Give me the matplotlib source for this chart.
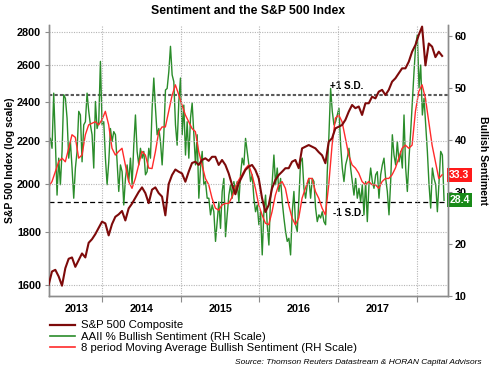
import matplotlib
matplotlib.use("Agg")
import matplotlib.pyplot as plt
import matplotlib.dates as mdates
from matplotlib.ticker import FixedLocator, NullLocator, FuncFormatter
from matplotlib.lines import Line2D
import pandas as pd
import numpy as np

plt.rcParams['font.family'] = ['Liberation Sans', 'DejaVu Sans']

# ---------------- data ----------------
spx_start, spx_end = "2013-04-26", "2018-04-29"
spx = [1600, 1648, 1654, 1630, 1597, 1660, 1695, 1700, 1665, 1690, 1715, 1700, 1756, 1770, 1790,
       1815, 1840, 1833, 1785, 1830, 1860, 1870, 1884, 1845, 1895, 1915, 1940, 1965, 1985, 1960, 1917,
       1975, 1985, 1960, 1945, 1866, 2000, 2040, 2065, 2055, 2047, 2010, 2055, 2095, 2101, 2086,
       2109, 2117, 2105, 2124, 2124, 2086, 2109, 2086, 2047, 1996, 1955, 2003, 2033, 2063, 2078,
       2086, 2063, 2025, 1938, 1880, 1909, 1981, 2018, 2040, 2055, 2071, 2071, 2101, 2109, 2071,
       2164, 2172, 2180, 2172, 2164, 2146, 2131, 2094, 2196, 2213, 2262, 2270, 2279, 2305, 2347,
       2382, 2365, 2374, 2330, 2391, 2391, 2426, 2417, 2453, 2463, 2435, 2463, 2508, 2527, 2555,
       2583, 2583, 2621, 2680, 2720, 2781, 2833, 2600, 2729, 2710, 2648, 2680, 2655]

bull_start, bull_end = "2013-05-04", "2018-05-08"
bullish = [40.3, 38.4, 49.0, 39.7, 29.4, 36.5, 31.4, 37.8, 48.7, 48.0, 44.2, 36.5, 39.7, 34.6, 28.8,
           34.6, 37.8, 45.5, 44.8, 35.8, 42.9, 43.5, 49.0, 45.5, 42.9, 41.0, 34.6, 47.4, 42.2, 43.5,
           55.1, 42.9, 43.5, 36.5, 31.4, 35.8, 42.2, 39.7, 41.6, 41.0, 35.8, 30.1, 35.2, 33.9, 27.5,
           32.6, 35.2, 32.0, 36.5, 31.4, 39.0, 44.8, 37.8, 35.2, 38.4, 36.5, 37.8, 33.3, 33.9, 38.4,
           36.5, 46.1, 51.9, 46.1, 41.0, 42.2, 39.7, 35.2, 41.0, 49.6, 49.9, 53.1, 58.0, 52.5, 51.2,
           42.9, 39.0, 47.4, 51.9, 41.0, 46.7, 37.1, 43.5, 36.5, 44.2, 47.1, 41.0, 35.2, 41.0, 28.8,
           34.6, 37.8, 31.4, 32.0, 28.8, 28.8, 25.6, 27.5, 26.2, 20.5, 24.3, 28.1, 23.0, 30.1, 32.6,
           21.4, 25.6, 29.4, 31.4, 28.8, 32.0, 30.1, 32.0, 28.1, 33.3, 36.5, 35.2, 40.3, 37.8, 35.2,
           32.0, 33.3, 28.8, 26.2, 27.5, 23.7, 26.2, 17.9, 26.2, 29.4, 23.7, 19.8, 28.8, 32.0, 37.1,
           31.4, 34.6, 30.1, 32.6, 28.1, 25.0, 22.4, 20.5, 21.1, 17.9, 26.2, 30.1, 23.7, 22.4, 28.8,
           35.8, 36.5, 30.7, 28.8, 31.4, 32.6, 28.8, 32.6, 32.0, 26.9, 24.3, 25.6, 25.0, 26.2, 24.3,
           23.7, 33.9, 41.0, 49.9, 45.5, 42.9, 43.5, 44.8, 46.1, 39.0, 34.6, 32.0, 35.2, 36.5, 38.4,
           34.6, 32.0, 29.4, 32.6, 28.8, 30.7, 28.1, 31.4, 25.6, 32.0, 24.3, 31.4, 34.6, 32.0, 30.7,
           33.3, 33.9, 28.8, 33.3, 35.2, 36.5, 32.6, 30.1, 25.6, 32.0, 41.0, 37.1, 35.2, 39.7, 35.8,
           37.8, 34.6, 44.8, 34.6, 30.1, 36.5, 41.6, 47.4, 53.1, 58.3, 60.2, 50.0, 54.4, 44.8, 48.0,
           42.9, 37.8, 31.4, 26.9, 34.6, 32.6, 31.4, 26.2, 32.0, 37.8, 37.1, 28.4]

ma8 = [31.0, 32.0, 33.9, 35.8, 36.5, 35.8, 38.4, 41.0, 40.5, 36.5, 37.1, 41.0, 42.9, 43.2, 43.5,
       42.9, 43.9, 45.5, 42.9, 38.4, 37.1, 37.8, 38.4, 35.2, 32.0, 30.7, 32.6, 35.2, 37.8, 37.1, 34.6,
       34.5, 37.7, 41.5, 42.5, 42.5, 45.5, 48.5, 50.6, 48.7, 46.7, 44.8, 43.5, 42.2, 41.6, 37.8,
       35.2, 32.6, 31.4, 28.8, 26.9, 26.5, 27.5, 27.8, 27.8, 29.0, 31.0, 32.3, 33.3, 34.5, 35.2,
       33.3, 30.7, 27.5, 25.6, 24.0, 23.7, 26.2, 29.4, 31.4, 32.0, 30.7, 27.5, 25.0, 23.7, 25.0,
       28.8, 30.7, 32.6, 32.6, 30.1, 28.8, 26.9, 25.6, 31.4, 39.0, 44.2, 44.8, 43.5, 40.3, 37.1,
       35.2, 34.6, 33.6, 32.0, 31.4, 32.0, 31.4, 31.4, 30.7, 32.0, 32.6, 32.6, 33.3, 34.6, 36.5,
       38.4, 39.0, 38.4, 39.0, 45.5, 49.3, 50.6, 48.0, 43.5, 39.0, 35.8, 32.6, 33.3]

plus_sd, minus_sd = 48.6, 28.1
last_ma, last_bull = 33.3, 28.4
left_ticks = [1600, 1800, 2000, 2200, 2400, 2600, 2800]
right_ticks = [10, 20, 30, 40, 50, 60]
year_bounds = ["2014-01-01", "2015-01-01", "2016-01-01", "2017-01-01", "2018-01-01"]
year_labels = ["2013", "2014", "2015", "2016", "2017"]
year_label_pos = ["2013-09-01", "2014-07-02", "2015-07-02", "2016-07-02", "2017-07-02"]

spx_dates = pd.date_range(spx_start, spx_end, periods=len(spx))
ma_dates = pd.date_range(spx_start, spx_end, periods=len(ma8))
bull_dates = pd.date_range(bull_start, bull_end, periods=len(bullish))

# ---------------- figure ----------------
W, H = 497, 376
fig = plt.figure(figsize=(W / 100, H / 100), dpi=100)
ax = fig.add_axes([49.3 / W, 80 / H, (447.7 - 49.3) / W, 271 / H])
ax2 = ax.twinx()
ax.set_zorder(2)
ax2.set_zorder(1)
ax.patch.set_visible(False)

GREEN = "#2a8c2a"
RED = "#ff2b2b"
MAROON = "#7d0a0a"
SPINE = "#8c8c8c"

# sentiment on right axis
ax2.plot(bull_dates, bullish, color=GREEN, lw=1.0, zorder=2)
ax2.plot(ma_dates, ma8, color=RED, lw=1.0, zorder=3)
ax2.axhline(plus_sd, color="#5a5a5a", lw=1.5, ls=(0, (1.6, 1.0)), zorder=1)
ax2.axhline(minus_sd, color="black", lw=0.9, ls=(0, (4, 2.5)), zorder=1)
ax2.set_ylim(10, 62.1)
ax2.yaxis.set_major_locator(FixedLocator(right_ticks))
ax2.yaxis.set_minor_locator(NullLocator())
ax2.tick_params(axis='y', direction='out', length=3, width=0.8, color=SPINE, pad=2,
                labelsize=7.8)
for lab in ax2.get_yticklabels():
    lab.set_fontweight('bold')
ax2.set_ylabel("Bullish Sentiment", rotation=270, fontsize=7.6, fontweight='bold', labelpad=15)

ax2.text(pd.Timestamp("2016-11-26"), 50.4, "+1 S.D.", fontsize=7.2, fontweight='bold',
         ha='left', va='center', zorder=5)
ax2.text(pd.Timestamp("2016-12-10"), 26.0, "-1 S.D.", fontsize=7.2, fontweight='bold',
         ha='left', va='center', zorder=5)

trans = ax2.get_yaxis_transform()
ax2.text(1.004, last_ma, f"{last_ma}", transform=trans, color="white", fontsize=7.6,
         fontweight='bold', ha='left', va='center', zorder=10, clip_on=False,
         bbox=dict(boxstyle="square,pad=0.2", fc="#ff1a1a", ec="none"))
ax2.text(1.004, last_bull, f"{last_bull}", transform=trans, color="white", fontsize=7.6,
         fontweight='bold', ha='left', va='center', zorder=10, clip_on=False,
         bbox=dict(boxstyle="square,pad=0.2", fc="#198a19", ec="none"))

# S&P on left log axis
ax.plot(spx_dates, spx, color=MAROON, lw=1.5, zorder=4)
ax.set_yscale('log')
ax.set_ylim(1561, 2843)
ax.yaxis.set_major_locator(FixedLocator(left_ticks))
ax.yaxis.set_minor_locator(NullLocator())
ax.yaxis.set_major_formatter(FuncFormatter(lambda v, p: f"{int(round(v))}"))
ax.set_xlim(pd.Timestamp("2013-04-29"), pd.Timestamp("2018-05-25"))
ax.xaxis.set_major_locator(FixedLocator(mdates.date2num(pd.to_datetime(year_bounds))))
ax.xaxis.set_major_formatter(FuncFormatter(lambda v, p: ""))
ax.xaxis.set_minor_locator(FixedLocator(mdates.date2num(pd.to_datetime(year_label_pos))))
ax.xaxis.set_minor_formatter(FuncFormatter(
    lambda v, p: year_labels[p] if p is not None and p < len(year_labels) else ""))
ax.tick_params(axis='x', which='major', direction='out', length=4, width=0.8, color=SPINE)
ax.tick_params(axis='x', which='minor', length=0, pad=6, labelsize=7.8)
ax.tick_params(axis='y', direction='out', length=3, width=0.8, color=SPINE, pad=3,
               labelsize=7.8)
for lab in ax.get_yticklabels() + ax.get_xticklabels(minor=True):
    lab.set_fontweight('bold')
ax.set_ylabel("S&P 500 Index (log scale)", fontsize=7.5, fontweight='bold', labelpad=1)

ax.grid(True, which='major', axis='both', color="#b5b5b5", lw=0.8, ls=(0, (1, 1.2)))
ax.set_axisbelow(True)

for a in (ax, ax2):
    a.spines['top'].set_visible(False)
    for s in ('left', 'right', 'bottom'):
        a.spines[s].set_color(SPINE)
        a.spines[s].set_linewidth(1.0)

fig.text(0.5, 1 - 11 / H, "Sentiment and the S&P 500 Index", ha='center', va='center',
         fontsize=8.8, fontweight='bold')

handles = [Line2D([], [], color=MAROON, lw=1.6),
           Line2D([], [], color=GREEN, lw=1.2),
           Line2D([], [], color=RED, lw=1.2)]
labels = ["S&P 500 Composite", "AAII % Bullish Sentiment (RH Scale)",
          "8 period Moving Average Bullish Sentiment (RH Scale)"]
fig.legend(handles, labels, loc='upper left', bbox_to_anchor=(50 / W, 1 - 320.5 / H),
           frameon=False, fontsize=8.2, handlelength=2.2, handletextpad=0.5,
           labelspacing=0.12, borderpad=0, borderaxespad=0)

fig.text(482 / W, 1 - 363 / H, "Source: Thomson Reuters Datastream & HORAN Capital Advisors",
         ha='right', va='center', fontsize=6, style='italic')

fig.savefig("out.png", dpi=100)
